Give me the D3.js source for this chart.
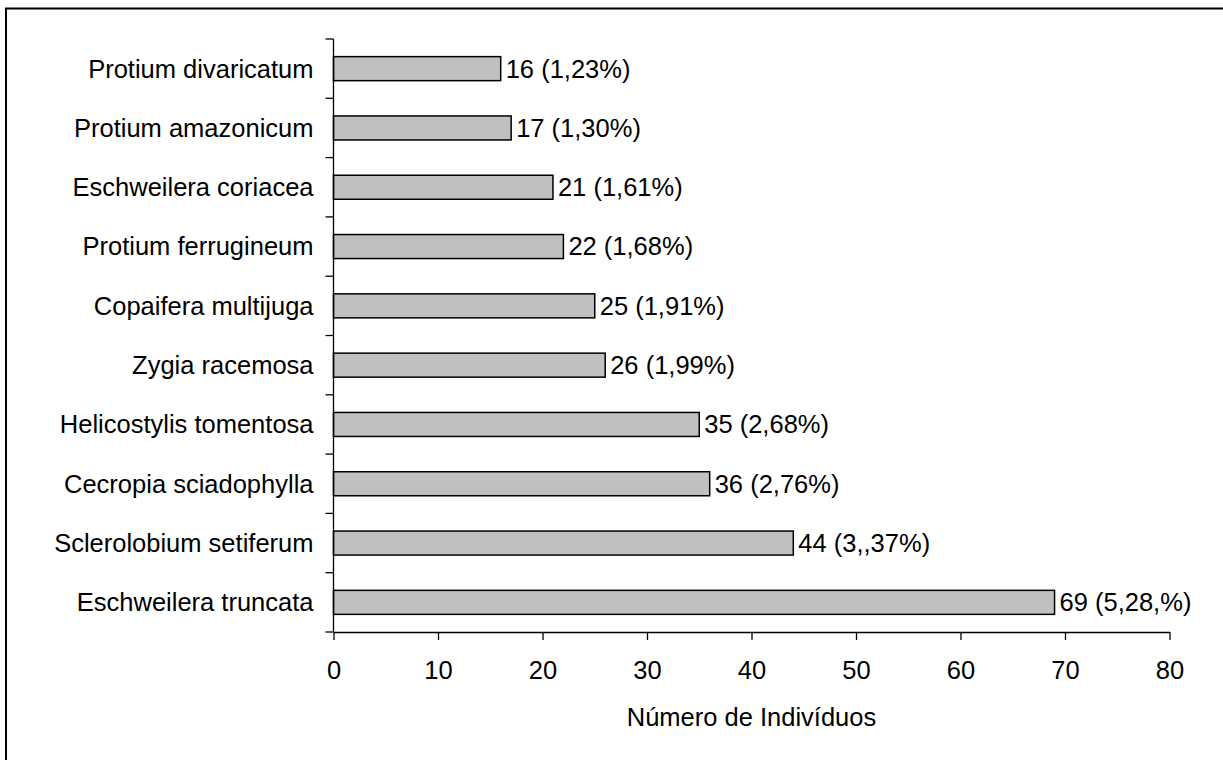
<!DOCTYPE html>
<html><head><meta charset="utf-8">
<script src="https://cdn.jsdelivr.net/npm/d3@7"></script>
<style>body{margin:0;background:#fff}svg{display:block}text{font-family:"Liberation Sans",Arial,sans-serif;fill:#000}</style>
</head><body><div id="chart"></div>
<script>
const species = ["Protium divaricatum","Protium amazonicum","Eschweilera coriacea","Protium ferrugineum","Copaifera multijuga","Zygia racemosa","Helicostylis tomentosa","Cecropia sciadophylla","Sclerolobium setiferum","Eschweilera truncata"];
const counts = [16,17,21,22,25,26,35,36,44,69];
const valueLabels = ["16 (1,23%)","17 (1,30%)","21 (1,61%)","22 (1,68%)","25 (1,91%)","26 (1,99%)","35 (2,68%)","36 (2,76%)","44 (3,,37%)","69 (5,28,%)"];
const xTicks = [0,10,20,30,40,50,60,70,80];
const xTitle = "Número de Indivíduos";

const W = 1223, H = 760;
const mLeft = 333.5, mRight = 1169.5, mTop = 39, mBottom = 632;
const svg = d3.select("#chart").append("svg").attr("width", W).attr("height", H);

svg.append("rect").attr("x",6).attr("y",8.5).attr("width",1400).attr("height",1000)
  .attr("fill","none").attr("stroke","#000").attr("stroke-width",2);

const x = d3.scaleLinear().domain([0,80]).range([mLeft,mRight]);
const y = d3.scaleBand().domain(species).range([mTop,mBottom]).paddingInner(0.595).paddingOuter(0.2975);
const fs = 25.5;

// bars
svg.selectAll("rect.bar").data(species).join("rect").attr("class","bar")
  .attr("x", x(0)).attr("y", d => y(d))
  .attr("width", (d,i) => x(counts[i]) - x(0)).attr("height", y.bandwidth())
  .attr("fill","#c0c0c0").attr("stroke","#000").attr("stroke-width",1.5);

// value labels
svg.selectAll("text.val").data(species).join("text").attr("class","val")
  .attr("x", (d,i) => x(counts[i]) + 5).attr("y", d => y(d) + y.bandwidth()/2)
  .attr("dy","0.35em").attr("font-size",fs).text((d,i) => valueLabels[i]);

// y axis
const step = y.step();
const yAxis = svg.append("g");
yAxis.append("line").attr("x1",mLeft).attr("x2",mLeft).attr("y1",mTop).attr("y2",mBottom).attr("stroke","#000").attr("stroke-width",1.3);
const boundaries = d3.range(species.length+1).map(i => mTop + i*step);
yAxis.selectAll("line.yt").data(boundaries).join("line").attr("class","yt")
  .attr("x1",mLeft-8).attr("x2",mLeft).attr("y1",d=>d).attr("y2",d=>d).attr("stroke","#000").attr("stroke-width",1.3);
yAxis.selectAll("text").data(species).join("text")
  .attr("x", mLeft-20).attr("y", d => y(d)+y.bandwidth()/2).attr("dy","0.35em")
  .attr("text-anchor","end").attr("font-size",fs).text(d=>d);

// x axis
const xAxis = svg.append("g").attr("transform",`translate(0,${mBottom})`)
  .call(d3.axisBottom(x).tickValues(xTicks).tickSize(8).tickPadding(21).tickSizeOuter(0));
xAxis.select(".domain").attr("stroke","#000").attr("stroke-width",1.3);
xAxis.selectAll(".tick line").attr("stroke","#000").attr("stroke-width",1.3);
xAxis.selectAll(".tick text").attr("font-size",fs).attr("font-family","Liberation Sans, Arial, sans-serif").attr("fill","#000");

svg.append("text").attr("x",(mLeft+mRight)/2).attr("y",717).attr("dy","0.35em")
  .attr("text-anchor","middle").attr("font-size",fs).text(xTitle);
</script></body></html>
